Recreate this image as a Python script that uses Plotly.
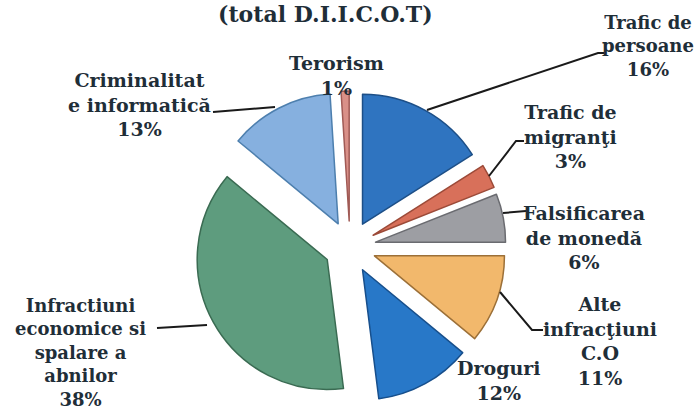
import plotly.graph_objects as go

labels = ["Trafic de persoane", "Trafic de migranţi", "Falsificarea de monedă",
          "Alte infracţiuni C.O", "Droguri", "Infractiuni economice si spalare a abnilor",
          "Criminalitate informatică", "Terorism"]
values = [16, 3, 6, 11, 12, 38, 13, 1]
colors = ["#2f74c0", "#d8705a", "#9d9ea3", "#f2b86c", "#2878c8", "#5e9c7e", "#86b0df", "#d99088"]
edge_colors = ["#1d4f87", "#9c4a38", "#6a6b70", "#9c7038", "#174f8c", "#3a6b52", "#4d7fae", "#a05a55"]

label_texts = [
    "Trafic de<br>persoane<br>16%",
    "Trafic de<br>migranţi<br>3%",
    "Falsificarea<br>de monedă<br>6%",
    "Alte<br>infracţiuni<br>C.O<br>11%",
    "Droguri<br>12%",
    "Infractiuni<br>economice si<br>spalare a<br>abnilor<br>38%",
    "Criminalitat<br>e informatică<br>13%",
    "Terorism<br>1%",
]
# label block centres (pixels in the 700x417 image)
label_pos = [(648, 46), (570, 137), (584, 237), (600, 341), (499, 380), (80, 352), (139, 104), (336, 75)]
# leader line polylines (pixels)
leaders = [
    [(604, 53), (598, 53), (427, 110)],
    [(524, 141), (516, 141), (489, 176)],
    [(526, 211), (503, 213)],
    [(500, 292), (532, 330), (543, 330)],
    [],
    [(157, 328), (207, 325)],
    [(213, 112), (275, 107)],
    [],
]

W, H = 700, 417
def px(x):
    return x / W
def py(y):
    return 1 - y / H

FONT = "DejaVu Serif"
TXT = "#1f2e38"
CX, CY, R = 350, 247, 156

fig = go.Figure(go.Pie(
    labels=labels, values=values, sort=False, direction="clockwise", rotation=0,
    pull=[0.2] * len(values),
    marker=dict(colors=colors, line=dict(color=edge_colors, width=1.5)),
    textinfo="none", hoverinfo="label+percent", showlegend=False,
    domain=dict(x=[px(CX - R), px(CX + R)], y=[py(CY + R), py(CY - R)]),
))

annotations = [dict(
    text="<b>(total D.I.I.C.O.T)</b>", x=px(325), y=py(14), xref="paper", yref="paper",
    showarrow=False, font=dict(family=FONT, size=22, color=TXT), xanchor="center", yanchor="middle")]
for i, (t, (x, y)) in enumerate(zip(label_texts, label_pos)):
    size = 18 if i in (0, 5) else 19
    annotations.append(dict(
        text="<b>" + t + "</b>", x=px(x), y=py(y), xref="paper", yref="paper",
        showarrow=False, font=dict(family=FONT, size=size, color=TXT),
        xanchor="center", yanchor="middle", align="center"))

shapes = []
for pts in leaders:
    if len(pts) < 2:
        continue
    path = "M " + " L ".join(f"{px(x)},{py(y)}" for x, y in pts)
    shapes.append(dict(type="path", path=path, xref="paper", yref="paper",
                       line=dict(color="#1a1a1a", width=2)))

fig.update_layout(
    width=W, height=H, margin=dict(l=0, r=0, t=0, b=0),
    paper_bgcolor="white", plot_bgcolor="white",
    annotations=annotations, shapes=shapes,
)
fig.write_html("out.html", config={"displayModeBar": False},
               post_script="document.body.style.margin='0';document.body.style.overflow='hidden';")
